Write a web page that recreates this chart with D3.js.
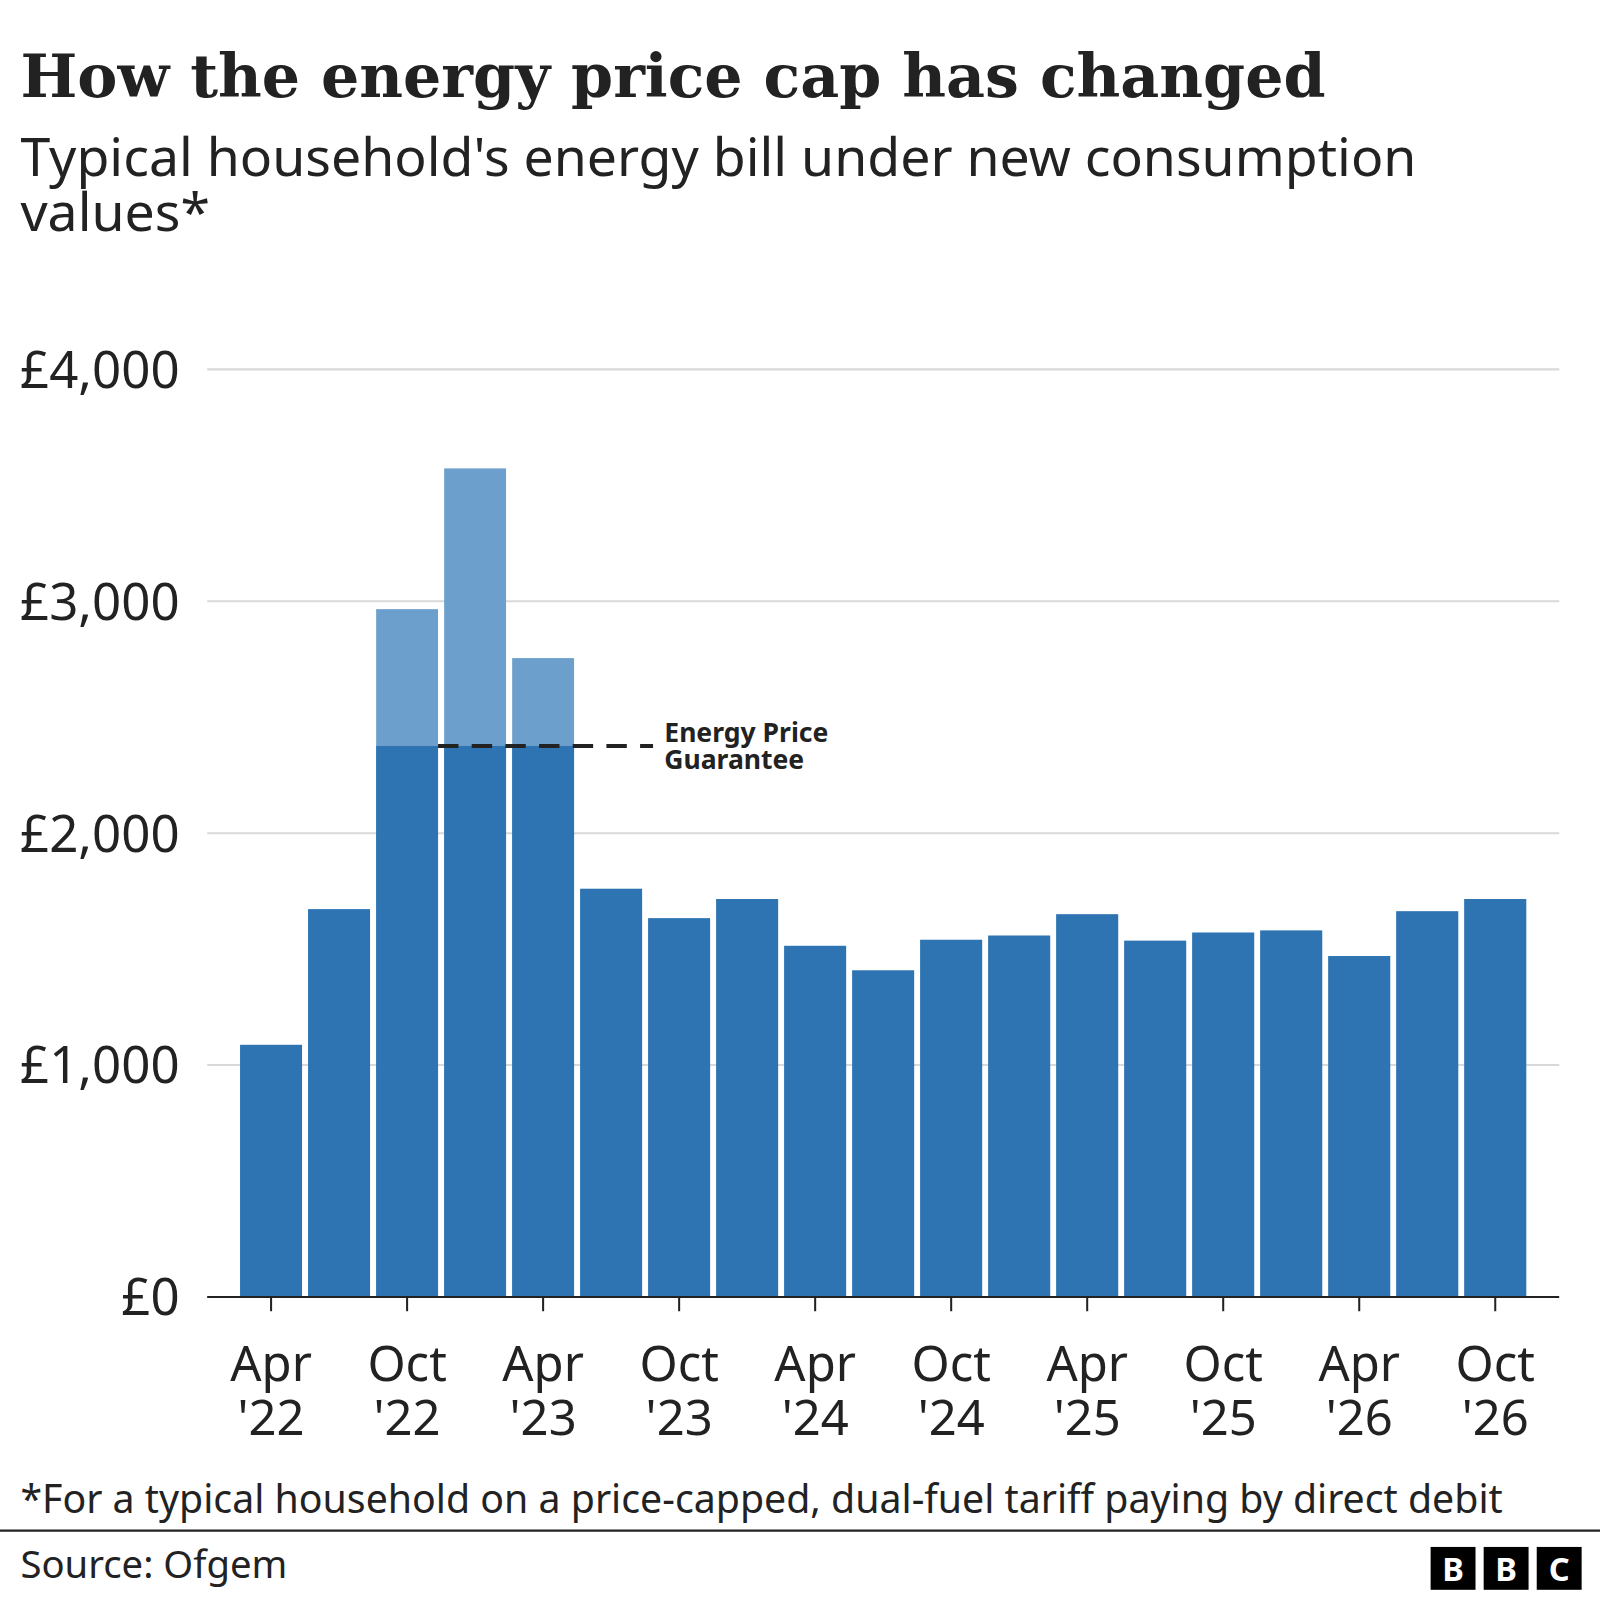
<!DOCTYPE html>
<html>
<head>
<meta charset="utf-8">
<script src="https://cdn.jsdelivr.net/npm/d3@7"></script>
<style>
  body { margin: 0; background: #fff; }
  text { font-family: "Noto Sans", "Open Sans", sans-serif; fill: #222; }
</style>
</head>
<body>
<svg id="chart" width="1600" height="1600" viewBox="0 0 1568 1568"></svg>
<script>
// quarters, Apr '22 to Oct '26
const quarters = ["Apr22","Jul22","Oct22","Jan23","Apr23","Jul23","Oct23","Jan24","Apr24","Jul24",
                  "Oct24","Jan25","Apr25","Jul25","Oct25","Jan26","Apr26","Jul26","Oct26"];
// price cap, £
const capValues = [1087,1672,2966,3573,2755,1760,1633,1716,1514,1408,1540,1558,1650,1536,1571,1580,1470,1663,1716];
// what households paid (Energy Price Guarantee applied)
const paidValues = [1087,1672,2376,2376,2376,1760,1633,1716,1514,1408,1540,1558,1650,1536,1571,1580,1470,1663,1716];
const tickQuarters = ["Apr22","Oct22","Apr23","Oct23","Apr24","Oct24","Apr25","Oct25","Apr26","Oct26"];
const tickLabels = [["Apr","'22"],["Oct","'22"],["Apr","'23"],["Oct","'23"],["Apr","'24"],
                    ["Oct","'24"],["Apr","'25"],["Oct","'25"],["Apr","'26"],["Oct","'26"]];
const yTicks = [0,1000,2000,3000,4000];
const epgValue = 2376;

const svg = d3.select('#chart');
const plotLeft = 203, plotRight = 1528, plotTop = 362, plotBottom = 1271;

const x = d3.scaleBand().domain(quarters).range([232, 1499]).paddingInner(0.09).paddingOuter(0.05);
const y = d3.scaleLinear().domain([0, 4000]).range([plotBottom, plotTop]);

svg.append('text').attr('x', 20).attr('y', 95)
  .style('font-family', '"DejaVu Serif", "Liberation Serif", serif').style('font-weight', 'bold')
  .style('font-size', '59px').text('How the energy price cap has changed');
svg.append('text').attr('x', 20).attr('y', 172).style('font-size', '52.5px')
  .text("Typical household's energy bill under new consumption");
svg.append('text').attr('x', 20).attr('y', 226).style('font-size', '52.5px').text('values*');

// grid
svg.selectAll('.grid').data(yTicks.slice(1)).join('line')
  .attr('x1', plotLeft).attr('x2', plotRight)
  .attr('y1', d => y(d)).attr('y2', d => y(d))
  .attr('stroke', '#d9d9d9').attr('stroke-width', 2);

svg.selectAll('.ylab').data(yTicks).join('text')
  .attr('x', 176).attr('y', d => y(d) + 18)
  .attr('text-anchor', 'end').style('font-size', '50px')
  .text(d => '£' + d3.format(',')(d));

// cap bars (lighter) then paid bars
svg.selectAll('.cap').data(quarters).join('rect')
  .attr('x', d => x(d)).attr('width', x.bandwidth())
  .attr('y', (d, i) => y(capValues[i])).attr('height', (d, i) => plotBottom - y(capValues[i]))
  .attr('fill', '#6c9fcb');
svg.selectAll('.paid').data(quarters).join('rect')
  .attr('x', d => x(d)).attr('width', x.bandwidth())
  .attr('y', (d, i) => y(paidValues[i])).attr('height', (d, i) => plotBottom - y(paidValues[i]))
  .attr('fill', '#2e74b3');

// EPG line
svg.append('line')
  .attr('x1', x('Oct22') + x.bandwidth()).attr('x2', 640)
  .attr('y1', y(epgValue)).attr('y2', y(epgValue))
  .attr('stroke', '#222').attr('stroke-width', 4).attr('stroke-dasharray', '20,13');
svg.append('text').attr('x', 651).attr('y', y(epgValue) - 4)
  .style('font-size', '26px').style('font-weight', 'bold').text('Energy Price');
svg.append('text').attr('x', 651).attr('y', y(epgValue) + 23)
  .style('font-size', '26px').style('font-weight', 'bold').text('Guarantee');

// x axis
svg.append('line').attr('x1', plotLeft).attr('x2', plotRight).attr('y1', plotBottom).attr('y2', plotBottom)
  .attr('stroke', '#222').attr('stroke-width', 2);
const tg = svg.selectAll('.xt').data(tickQuarters).join('g')
  .attr('transform', d => `translate(${x(d) + x.bandwidth() / 2},${plotBottom})`);
tg.append('line').attr('y2', 14).attr('stroke', '#222').attr('stroke-width', 2);
tg.append('text').attr('y', 82).attr('text-anchor', 'middle').style('font-size', '48px')
  .text((d, i) => tickLabels[i][0]);
tg.append('text').attr('y', 135).attr('text-anchor', 'middle').style('font-size', '48px')
  .text((d, i) => tickLabels[i][1]);

// footer
svg.append('text').attr('x', 20).attr('y', 1483).style('font-size', '38.5px')
  .text('*For a typical household on a price-capped, dual-fuel tariff paying by direct debit');
svg.append('line').attr('x1', 0).attr('x2', 1568).attr('y1', 1500).attr('y2', 1500)
  .attr('stroke', '#222').attr('stroke-width', 2);
svg.append('text').attr('x', 20).attr('y', 1546).style('font-size', '37.5px').text('Source: Ofgem');
['B','B','C'].forEach((c, i) => {
  const bx = 1402 + i * 52;
  svg.append('rect').attr('x', bx).attr('y', 1516).attr('width', 44).attr('height', 42).attr('fill', '#000');
  svg.append('text').attr('x', bx + 22).attr('y', 1549).attr('text-anchor', 'middle')
    .style('fill', '#fff').style('font-size', '32px').style('font-weight', 'bold').text(c);
});
</script>
</body>
</html>
